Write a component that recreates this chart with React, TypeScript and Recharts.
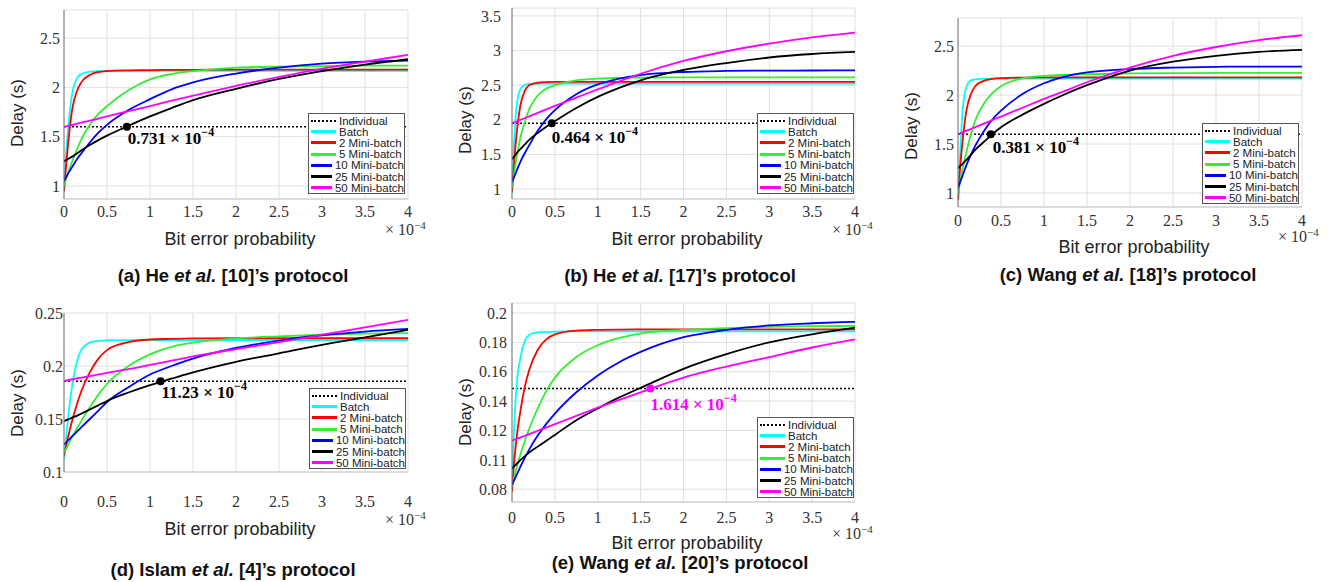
import { LineChart, Line, XAxis, YAxis, CartesianGrid, ReferenceLine, ReferenceDot } from 'recharts';

const SANS = '"Liberation Sans", Arial, sans-serif';
const SERIF = '"Liberation Serif", "Times New Roman", serif';

// bit error probability (x 10^-4) sample points
const ber = [0, 0.02, 0.05, 0.1, 0.15, 0.2, 0.3, 0.4, 0.5, 0.75, 1, 1.25, 1.5, 2, 2.5, 3, 3.5, 4];
const xTicks = [0, 0.5, 1, 1.5, 2, 2.5, 3, 3.5, 4];

const seriesKeys = ['batch', 'mb2', 'mb5', 'mb10', 'mb25', 'mb50'];
const seriesNames = ['Batch', '2 Mini-batch', '5 Mini-batch', '10 Mini-batch', '25 Mini-batch', '50 Mini-batch'];
const seriesColors = ['#00ffff', '#ff0000', '#33ee33', '#0000ff', '#000000', '#ff00ff'];

// (a) He et al. [10]
const aBatch = [0.94, 1.26, 1.6, 1.96, 2.09, 2.135, 2.16, 2.165, 2.166, 2.167, 2.167, 2.167, 2.167, 2.167, 2.167, 2.167, 2.167, 2.167];
const aMb2 = [0.95, 1.16, 1.45, 1.8, 1.96, 2.05, 2.125, 2.155, 2.165, 2.172, 2.175, 2.177, 2.178, 2.18, 2.18, 2.18, 2.18, 2.18];
const aMb5 = [1.0, 1.06, 1.14, 1.26, 1.37, 1.47, 1.62, 1.73, 1.81, 1.97, 2.08, 2.135, 2.165, 2.2, 2.21, 2.215, 2.22, 2.22];
const aMb10 = [1.05, 1.08, 1.13, 1.2, 1.27, 1.33, 1.44, 1.54, 1.62, 1.77, 1.88, 1.98, 2.05, 2.14, 2.2, 2.24, 2.26, 2.27];
const aMb25 = [1.25, 1.26, 1.275, 1.3, 1.33, 1.36, 1.415, 1.465, 1.51, 1.61, 1.705, 1.79, 1.87, 1.985, 2.085, 2.165, 2.23, 2.285];
const aMb50 = [1.6, 1.604, 1.61, 1.62, 1.631, 1.642, 1.663, 1.684, 1.705, 1.758, 1.81, 1.865, 1.915, 2.015, 2.105, 2.19, 2.26, 2.33];
const aIndividual = 1.6;

// (b) He et al. [17]
const bBatch = [0.94, 1.55, 2.15, 2.45, 2.505, 2.518, 2.522, 2.522, 2.522, 2.522, 2.522, 2.522, 2.522, 2.522, 2.522, 2.522, 2.522, 2.522];
const bMb2 = [0.96, 1.3, 1.75, 2.22, 2.42, 2.5, 2.535, 2.545, 2.548, 2.548, 2.548, 2.548, 2.548, 2.548, 2.548, 2.548, 2.548, 2.548];
const bMb5 = [1.02, 1.18, 1.42, 1.75, 1.97, 2.15, 2.35, 2.45, 2.5, 2.57, 2.595, 2.605, 2.61, 2.612, 2.612, 2.612, 2.612, 2.612];
const bMb10 = [1.1, 1.16, 1.25, 1.4, 1.52, 1.63, 1.84, 2.01, 2.14, 2.37, 2.51, 2.595, 2.645, 2.69, 2.705, 2.71, 2.712, 2.713];
const bMb25 = [1.43, 1.46, 1.51, 1.58, 1.645, 1.71, 1.81, 1.9, 1.98, 2.17, 2.33, 2.46, 2.57, 2.72, 2.82, 2.9, 2.95, 2.98];
const bMb50 = [1.95, 1.96, 1.975, 2.0, 2.025, 2.05, 2.1, 2.15, 2.2, 2.32, 2.44, 2.555, 2.665, 2.85, 2.99, 3.1, 3.19, 3.26];
const bIndividual = 1.95;

// (c) Wang et al. [18]
const cBatch = [0.92, 1.3, 1.8, 2.09, 2.15, 2.16, 2.165, 2.167, 2.167, 2.167, 2.167, 2.167, 2.167, 2.167, 2.167, 2.167, 2.167, 2.167];
const cMb2 = [0.93, 1.2, 1.5, 1.85, 2.01, 2.09, 2.145, 2.165, 2.173, 2.178, 2.18, 2.18, 2.18, 2.18, 2.18, 2.18, 2.18, 2.18];
const cMb5 = [0.99, 1.09, 1.23, 1.43, 1.6, 1.74, 1.91, 2.02, 2.09, 2.17, 2.196, 2.206, 2.212, 2.22, 2.223, 2.225, 2.225, 2.225];
const cMb10 = [1.05, 1.1, 1.17, 1.29, 1.39, 1.48, 1.63, 1.75, 1.84, 2.01, 2.12, 2.19, 2.23, 2.265, 2.28, 2.288, 2.29, 2.29];
const cMb25 = [1.25, 1.27, 1.295, 1.34, 1.39, 1.44, 1.52, 1.6, 1.67, 1.8, 1.91, 2.01, 2.1, 2.25, 2.34, 2.4, 2.44, 2.46];
const cMb50 = [1.6, 1.607, 1.618, 1.636, 1.654, 1.672, 1.708, 1.744, 1.78, 1.87, 1.96, 2.045, 2.13, 2.28, 2.4, 2.49, 2.56, 2.61];
const cIndividual = 1.6;

// (d) Islam et al. [4]
const dBatch = [0.112, 0.128, 0.153, 0.184, 0.204, 0.215, 0.222, 0.2237, 0.2242, 0.2245, 0.2245, 0.2245, 0.2245, 0.2245, 0.2245, 0.2245, 0.2245, 0.2245];
const dMb2 = [0.115, 0.123, 0.134, 0.15, 0.164, 0.176, 0.194, 0.207, 0.215, 0.2225, 0.225, 0.2256, 0.226, 0.2262, 0.2262, 0.2262, 0.2262, 0.2262];
const dMb5 = [0.118, 0.121, 0.126, 0.134, 0.141, 0.148, 0.161, 0.173, 0.183, 0.2, 0.211, 0.218, 0.222, 0.226, 0.228, 0.2295, 0.2305, 0.231];
const dMb10 = [0.126, 0.1275, 0.13, 0.134, 0.138, 0.142, 0.15, 0.158, 0.166, 0.18, 0.192, 0.2, 0.207, 0.217, 0.224, 0.229, 0.2325, 0.235];
const dMb25 = [0.148, 0.1487, 0.1497, 0.1515, 0.153, 0.155, 0.159, 0.163, 0.167, 0.175, 0.182, 0.188, 0.194, 0.204, 0.212, 0.22, 0.227, 0.234];
const dMb50 = [0.186, 0.1863, 0.1868, 0.1875, 0.1883, 0.189, 0.1905, 0.192, 0.1935, 0.197, 0.201, 0.205, 0.209, 0.216, 0.2225, 0.2295, 0.2365, 0.2435];
const dIndividual = 0.1855;

// (e) Wang et al. [20]
const eBatch = [0.082, 0.115, 0.148, 0.17, 0.181, 0.185, 0.1868, 0.187, 0.1873, 0.1875, 0.1875, 0.1875, 0.1875, 0.1875, 0.1875, 0.1875, 0.1875, 0.1875];
const eMb2 = [0.078, 0.095, 0.113, 0.134, 0.15, 0.161, 0.175, 0.182, 0.1855, 0.188, 0.1885, 0.1887, 0.1888, 0.1888, 0.1888, 0.1888, 0.1888, 0.1888];
const eMb5 = [0.082, 0.087, 0.094, 0.104, 0.113, 0.121, 0.135, 0.147, 0.156, 0.17, 0.178, 0.183, 0.186, 0.1885, 0.1897, 0.1905, 0.191, 0.1912];
const eMb10 = [0.083, 0.0855, 0.0893, 0.0955, 0.1015, 0.107, 0.1165, 0.1245, 0.1315, 0.146, 0.1575, 0.1665, 0.1735, 0.1835, 0.1885, 0.1915, 0.193, 0.194];
const eMb25 = [0.094, 0.0953, 0.097, 0.1, 0.1025, 0.105, 0.109, 0.113, 0.117, 0.127, 0.135, 0.1425, 0.149, 0.162, 0.172, 0.18, 0.1855, 0.19];
const eMb50 = [0.113, 0.1135, 0.1142, 0.1153, 0.1164, 0.1175, 0.1198, 0.122, 0.1243, 0.13, 0.1355, 0.1408, 0.146, 0.156, 0.1635, 0.17, 0.1765, 0.182];
const eIndividual = 0.1485;
const eYTicks = [0.08, 0.1, 0.12, 0.14, 0.16, 0.18, 0.2];
const eYTickLabels = ['0.08', '0.11', '0.12', '0.14', '0.16', '0.18', '0.2'];

const panels = [
  {
    id: 'a', values: [aBatch, aMb2, aMb5, aMb10, aMb25, aMb50], individual: aIndividual,
    plotLeft: 64, plotTop: 10, plotW: 344, plotH: 189,
    yDomain: [0.868, 2.784], yTicks: [1, 1.5, 2, 2.5], yTickLabels: null as string[] | null,
    xMargin: 7, yMargin: 4,
    mark: { x: 0.731, y: 1.6, text: '0.731', color: '#000', dx: 1, dy: 17 },
    legend: [308, 113], ylab: [18, 113], xlab: [240, 239], exp: [385, 229],
    caption: [233, 276], who: 'He', ref: '10',
  },
  {
    id: 'b', values: [bBatch, bMb2, bMb5, bMb10, bMb25, bMb50], individual: bIndividual,
    plotLeft: 512, plotTop: 8, plotW: 343, plotH: 191,
    yDomain: [0.855, 3.615], yTicks: [1, 1.5, 2, 2.5, 3, 3.5], yTickLabels: null,
    xMargin: 7, yMargin: 11,
    mark: { x: 0.464, y: 1.95, text: '0.464', color: '#000', dx: 0, dy: 20 },
    legend: [757, 113], ylab: [466, 120], xlab: [687, 239], exp: [832, 229],
    caption: [680, 276], who: 'He', ref: '17',
  },
  {
    id: 'c', values: [cBatch, cMb2, cMb5, cMb10, cMb25, cMb50], individual: cIndividual,
    plotLeft: 958, plotTop: 18, plotW: 344, plotH: 189,
    yDomain: [0.857, 2.786], yTicks: [1, 1.5, 2, 2.5], yTickLabels: null,
    xMargin: 7.5, yMargin: 4,
    mark: { x: 0.381, y: 1.6, text: '0.381', color: '#000', dx: 2, dy: 19 },
    legend: [1202, 123], ylab: [912, 126], xlab: [1134, 247], exp: [1278, 236],
    caption: [1128, 275], who: 'Wang', ref: '18',
  },
  {
    id: 'd', values: [dBatch, dMb2, dMb5, dMb10, dMb25, dMb50], individual: dIndividual,
    plotLeft: 64, plotTop: 313, plotW: 344, plotH: 159,
    yDomain: [0.1, 0.25], yTicks: [0.1, 0.15, 0.2, 0.25], yTickLabels: null,
    xMargin: 24, yMargin: 1,
    mark: { x: 1.123, y: 0.1855, text: '11.23', color: '#000', dx: 1, dy: 17 },
    legend: [309, 388], ylab: [18, 403], xlab: [240, 529], exp: [385, 519],
    caption: [233, 570], who: 'Islam', ref: '4',
  },
  {
    id: 'e', values: [eBatch, eMb2, eMb5, eMb10, eMb25, eMb50], individual: eIndividual,
    plotLeft: 512, plotTop: 303, plotW: 343, plotH: 199,
    yDomain: [0.0713, 0.2068], yTicks: eYTicks, yTickLabels: eYTickLabels,
    xMargin: 9.5, yMargin: 5,
    mark: { x: 1.614, y: 0.1485, text: '1.614', color: '#ff00ff', dx: 0, dy: 21 },
    legend: [757, 417], ylab: [466, 412], xlab: [687, 543], exp: [832, 533],
    caption: [680, 563], who: 'Wang', ref: '20',
  },
];

const Y_W = 50;
const M_TOP = 10;
const M_RIGHT = 30;
const X_H = 40;

function Panel({ p }: { p: any }) {
  const data = ber.map((x, i) => {
    const row: any = { x };
    seriesKeys.forEach((k, j) => { row[k] = p.values[j][i]; });
    return row;
  });
  const tickStyle = { fontSize: 16, fill: '#333', fontFamily: SERIF };
  const m = p.mark;
  return (
    <div style={{ position: 'absolute', left: p.plotLeft - Y_W, top: p.plotTop - M_TOP }}>
      <LineChart
        width={Y_W + p.plotW + M_RIGHT}
        height={M_TOP + p.plotH + X_H}
        data={data}
        margin={{ top: M_TOP, right: M_RIGHT, left: 0, bottom: 0 }}
      >
        <CartesianGrid stroke="#e0e0e0" />
        <XAxis
          dataKey="x" type="number" domain={[0, 4]} ticks={xTicks} allowDataOverflow interval={0}
          height={X_H} tickLine={false} tickSize={0} tickMargin={p.xMargin}
          axisLine={{ stroke: '#c8c8c8' }} tick={tickStyle}
          tickFormatter={(v: number) => String(v)}
        />
        <YAxis
          type="number" domain={p.yDomain} ticks={p.yTicks} allowDataOverflow interval={0}
          width={Y_W} tickLine={false} tickSize={0} tickMargin={p.yMargin}
          axisLine={{ stroke: '#777' }} tick={tickStyle}
          tickFormatter={(v: number) => {
            if (p.yTickLabels) {
              const i = p.yTicks.findIndex((t: number) => Math.abs(t - v) < 1e-9);
              if (i >= 0) return p.yTickLabels[i];
            }
            return String(v);
          }}
        />
        <ReferenceLine y={p.individual} stroke="#000" strokeWidth={1.5} strokeDasharray="2 2" />
        {seriesKeys.map((k, j) => (
          <Line
            key={k} type="monotone" dataKey={k} name={seriesNames[j]}
            stroke={seriesColors[j]} strokeWidth={1.8} dot={false} isAnimationActive={false}
          />
        ))}
        <ReferenceDot
          x={m.x} y={m.y} r={4}
          shape={(s: any) => (
            <g>
              <circle cx={s.cx} cy={s.cy} r={4} fill={m.color} />
              <text x={s.cx + m.dx} y={s.cy + m.dy} fill={m.color} fontFamily={SERIF} fontWeight="bold" fontSize={17}>
                <tspan>{m.text} × 10</tspan>
                <tspan dy={-8} fontSize={12}>−4</tspan>
              </text>
            </g>
          )}
        />
      </LineChart>
    </div>
  );
}

function LegendBox({ left, top }: { left: number; top: number }) {
  const rows = [{ name: 'Individual', color: '#000', dotted: true }].concat(
    seriesNames.map((n, j) => ({ name: n, color: seriesColors[j], dotted: false }))
  );
  return (
    <div
      style={{
        position: 'absolute', left, top, width: 97, height: 81, boxSizing: 'border-box',
        border: '1px solid #555', background: '#fff', padding: '1px 0 0 2px',
        fontFamily: SANS, fontSize: 11.5, color: '#222',
      }}
    >
      {rows.map((r) => (
        <div key={r.name} style={{ display: 'flex', alignItems: 'center', height: 11.2, whiteSpace: 'nowrap' }}>
          <div
            style={{
              width: 25, marginRight: 3,
              borderTop: r.dotted ? `2px dotted ${r.color}` : `3px solid ${r.color}`,
            }}
          />
          <span>{r.name}</span>
        </div>
      ))}
    </div>
  );
}

function Centered({ x, y, style, children }: { x: number; y: number; style?: any; children: any }) {
  return (
    <div style={{ position: 'absolute', left: x, top: y, transform: 'translate(-50%, -50%)', whiteSpace: 'nowrap', ...style }}>
      {children}
    </div>
  );
}

export default function App() {
  return (
    <div style={{ position: 'absolute', left: 0, top: 0, width: 1336, height: 582, background: '#fff', overflow: 'hidden' }}>
      {panels.map((p) => (
        <div key={p.id}>
          <Panel p={p} />
          <LegendBox left={p.legend[0]} top={p.legend[1]} />
          <Centered x={p.ylab[0]} y={p.ylab[1]} style={{ fontFamily: SANS, fontSize: 17, color: '#222', transform: 'translate(-50%, -50%) rotate(-90deg)' }}>
            Delay (s)
          </Centered>
          <Centered x={p.xlab[0]} y={p.xlab[1]} style={{ fontFamily: SANS, fontSize: 18, color: '#222' }}>
            Bit error probability
          </Centered>
          <div style={{ position: 'absolute', left: p.exp[0], top: p.exp[1] - 10, fontFamily: SERIF, fontSize: 16, color: '#333', whiteSpace: 'nowrap' }}>
            × 10<sup style={{ fontSize: 11 }}>−4</sup>
          </div>
          <Centered x={p.caption[0]} y={p.caption[1]} style={{ fontFamily: SANS, fontSize: 18.5, fontWeight: 'bold', color: '#111' }}>
            ({p.id}) {p.who} <i>et al.</i> [{p.ref}]’s protocol
          </Centered>
        </div>
      ))}
    </div>
  );
}
